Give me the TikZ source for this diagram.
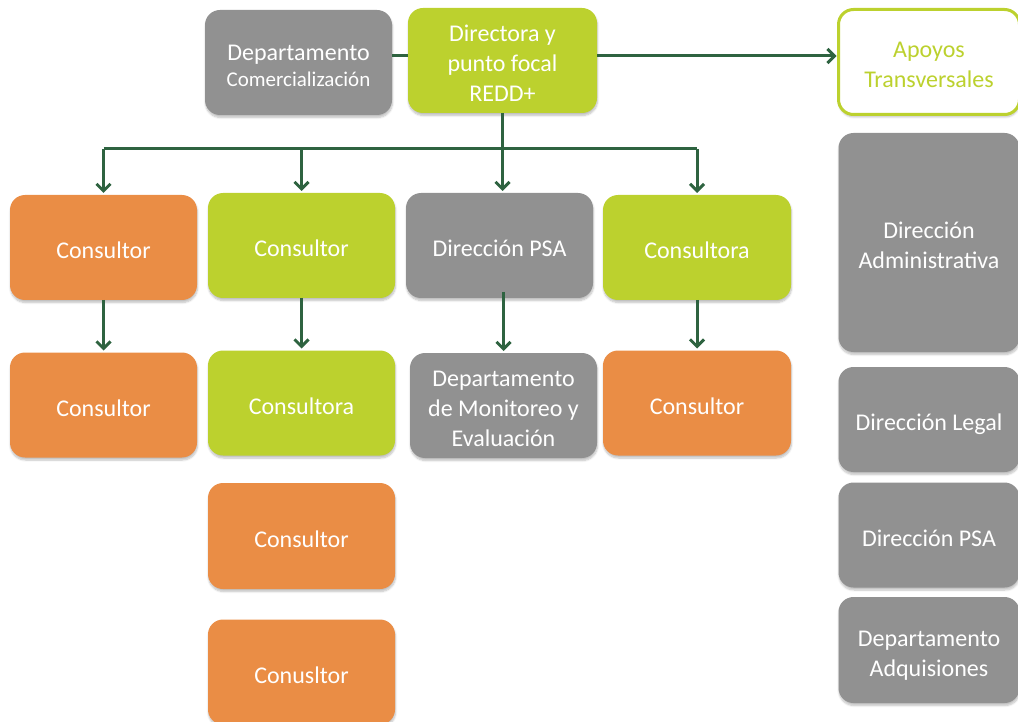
\documentclass[tikz,border=0pt]{standalone}
\usepackage{fontspec}
\setmainfont{Carlito}
\usetikzlibrary{arrows.meta,shadows.blur}

\newlength{\du}
\setlength{\du}{1pt}

\definecolor{grisfillcolor}{rgb}{0.568627, 0.568627, 0.568627}
\definecolor{verdefillcolor}{rgb}{0.737255, 0.819608, 0.180392}
\definecolor{naranjafillcolor}{rgb}{0.917647, 0.552941, 0.270588}
\definecolor{flechalinecolor}{rgb}{0.180392, 0.388235, 0.250980}

% texto centrado, un poco mas abajo
\newcommand{\texto}[1]{\raisebox{-5\du}[\height][\depth]{\begin{tabular}{@{}c@{}}#1\end{tabular}}}

\tikzset{
  caja/.style={rectangle, rounded corners=15\du, inner sep=0pt, outer sep=0pt,
    minimum width=187\du, minimum height=105\du, text=white,
    font=\fontsize{24}{30}\selectfont,
    blur shadow={shadow xshift=0.5pt, shadow yshift=-2.5pt, shadow opacity=25, shadow blur steps=6}},
  gris/.style={caja, fill=grisfillcolor},
  verde/.style={caja, fill=verdefillcolor},
  naranja/.style={caja, fill=naranjafillcolor},
  apoyo/.style={caja, fill=white, draw=verdefillcolor, line width=3\du, text=verdefillcolor},
  lateral/.style={gris, minimum width=181\du},
  flecha/.style={draw=flechalinecolor, line width=3\du, -{Straight Barb[length=7pt, width=14pt]}, shorten >=2\du},
  linea/.style={draw=flechalinecolor, line width=3\du}
}

\begin{document}
\begin{tikzpicture}
\pgftransformxscale{1.000000}
\pgftransformyscale{-1.000000}
\useasboundingbox (0\du,0\du) rectangle (1018\du,722\du);
\clip (0\du,0\du) rectangle (1018\du,722\du);

% cabecera
\node[gris] (dcom) at (298.5\du,62.5\du) {\texto{Departamento\\[-4\du]{\fontsize{21}{25}\selectfont Comercialización}}};
\node[verde, minimum width=189\du] (dir) at (502.5\du,60.5\du) {\texto{Directora y\\punto focal\\REDD+}};
\node[apoyo, minimum width=181\du] (apoyos) at (929\du,62\du) {\texto{Apoyos\\Transversales}};

% primera fila
\node[naranja] (r1c1) at (103.5\du,247.5\du) {\texto{Consultor}};
\node[verde] (r1c2) at (301.5\du,245.5\du) {\texto{Consultor}};
\node[gris] (r1c3) at (499.5\du,245.5\du) {\texto{Dirección PSA}};
\node[verde, minimum width=188\du] (r1c4) at (697\du,247.5\du) {\texto{Consultora}};

% segunda fila
\node[naranja] (r2c1) at (103.5\du,405\du) {\texto{Consultor}};
\node[verde] (r2c2) at (301.5\du,403\du) {\texto{Consultora}};
\node[gris] (r2c3) at (503.5\du,405.5\du) {\texto{Departamento\\de Monitoreo y\\Evaluación}};
\node[naranja, minimum width=188\du] (r2c4) at (697\du,403\du) {\texto{Consultor}};

% columna de consultores
\node[naranja, minimum height=106\du] (r3c2) at (301.5\du,536\du) {\texto{Consultor}};
\node[naranja] (r4c2) at (301.5\du,672\du) {\texto{Conusltor}};

% apoyos transversales
\node[lateral, minimum height=219\du] (dadm) at (929\du,242.5\du) {\texto{Dirección\\Administrativa}};
\node[lateral] (dleg) at (929\du,419.5\du) {\texto{Dirección Legal}};
\node[lateral] (dpsa) at (929\du,535\du) {\texto{Dirección PSA}};
\node[lateral, minimum height=106\du] (dadq) at (929\du,650\du) {\texto{Departamento\\Adquisiones}};

% conectores
\coordinate (eje) at (0\du,56\du);
\coordinate (barra) at (0\du,149\du);
\draw[linea] (dcom.east |- eje) -- (dir.west |- eje);
\draw[flecha] (dir.east |- eje) -- (apoyos.west |- eje);
\draw[flecha] (dir.south) -- (dir.south |- r1c3.north);
\draw[linea] (r1c1.north |- barra) -- (r1c4.north |- barra);
\draw[flecha] (r1c1.north |- barra) -- (r1c1.north);
\draw[flecha] (r1c2.north |- barra) -- (r1c2.north);
\draw[flecha] (r1c4.north |- barra) -- (r1c4.north);
\draw[flecha] (r1c1.south) -- (r2c1.north);
\draw[flecha] (r1c2.south) -- (r2c2.north);
\draw[flecha] ([yshift=-6\du]r2c3.north |- r1c3.south) -- (r2c3.north);
\draw[flecha] (r1c4.south) -- (r2c4.north);
\end{tikzpicture}
\end{document}
